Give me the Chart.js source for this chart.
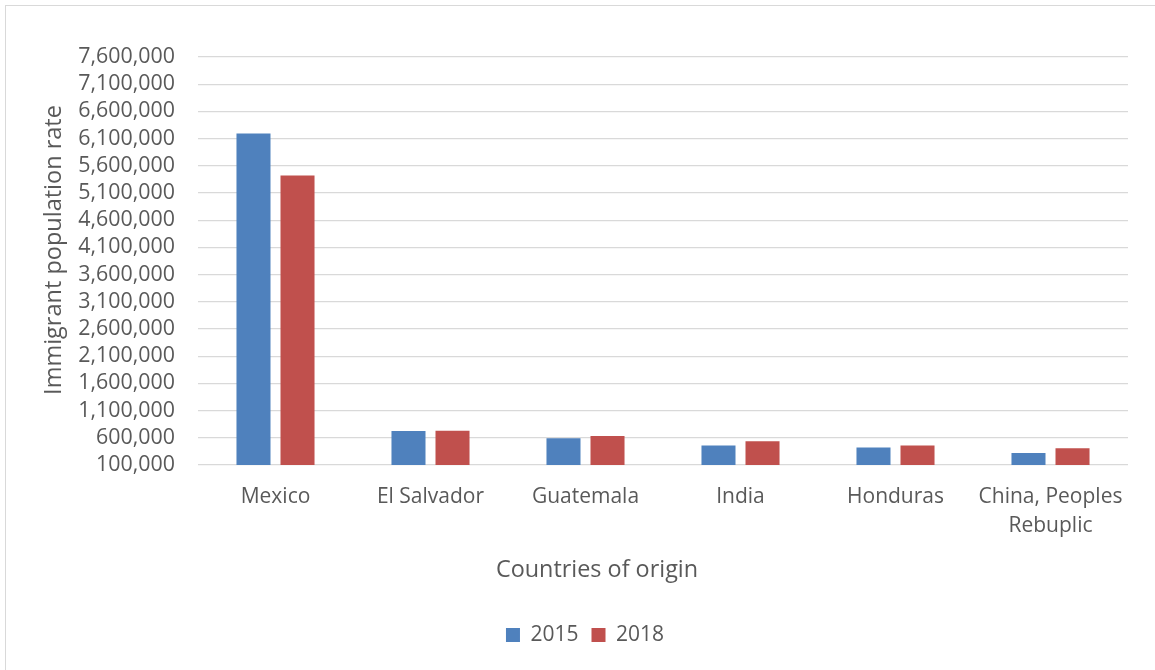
<!DOCTYPE html>
<html>
<head>
<meta charset="utf-8">
<script src="https://cdn.jsdelivr.net/npm/chart.js@4/dist/chart.umd.min.js"></script>
<style>
  html, body { margin: 0; padding: 0; background: #ffffff; }
  #wrap { position: relative; width: 1155px; height: 670px; overflow: hidden; }
  #frame { position: absolute; left: 5px; top: 5px; width: 1160px; height: 680px;
           border: 1px solid #d9d9d9; box-sizing: border-box; pointer-events: none; }
  canvas { position: absolute; left: 0; top: 0; }
</style>
</head>
<body>
<div id="wrap">
  <canvas id="chart" width="1155" height="670"></canvas>
  <div id="frame"></div>
</div>
<script>
// Immigrant population by country of origin
const countries = ['Mexico', 'El Salvador', 'Guatemala', 'India', 'Honduras', ['China, Peoples', 'Rebuplic']];
const values2015 = [6195000, 723000, 594000, 459000, 422000, 322000];
const values2018 = [5420000, 729000, 631000, 538000, 459000, 409000];
const yMin = 100000;
const yMax = 7600000;
const yStep = 500000;
const yTitle = 'Immigrant population rate';
const xTitle = 'Countries of origin';

const FONT = "'Open Sans', 'Liberation Sans', sans-serif";
const TEXT = '#595959';

// Axis captions, placed relative to the plot area
const axisCaptions = {
  id: 'axisCaptions',
  afterDraw(chart) {
    const { ctx, chartArea } = chart;
    ctx.save();
    ctx.fillStyle = TEXT;
    ctx.textAlign = 'center';
    ctx.textBaseline = 'middle';
    ctx.font = '23.4px ' + FONT;
    ctx.fillText(xTitle, chartArea.left + 399, chartArea.bottom + 105);
    ctx.translate(chartArea.left - 144, chartArea.top + 193);
    ctx.rotate(-Math.PI / 2);
    ctx.font = '23.5px ' + FONT;
    ctx.fillText(yTitle, 0, 0);
    ctx.restore();
  }
};

new Chart(document.getElementById('chart'), {
  type: 'bar',
  data: {
    labels: countries,
    datasets: [
      { label: '2015', data: values2015, backgroundColor: '#4f81bd' },
      { label: '2018', data: values2018, backgroundColor: '#c0504d' }
    ]
  },
  plugins: [axisCaptions],
  options: {
    responsive: false,
    animation: false,
    categoryPercentage: 0.568,
    barPercentage: 0.773,
    layout: { padding: { top: 57, right: 27, bottom: 14.5, left: 42 } },
    plugins: {
      tooltip: { enabled: false },
      legend: {
        position: 'bottom',
        labels: {
          color: TEXT,
          font: { family: FONT, size: 21 },
          boxWidth: 14,
          boxHeight: 14,
          padding: 13
        }
      }
    },
    scales: {
      x: {
        grid: { display: false, drawTicks: false },
        border: { display: false },
        ticks: { color: TEXT, font: { family: FONT, size: 21, lineHeight: 1.35 }, padding: 18, maxRotation: 0 },
        afterFit: (s) => { s.height = 146.5; }
      },
      y: {
        min: yMin,
        max: yMax,
        grid: { color: '#d9d9d9', lineWidth: 1.3, drawTicks: false },
        border: { display: false },
        ticks: {
          stepSize: yStep, autoSkip: false, color: TEXT, padding: 23,
          font: { family: FONT, size: 21.4 },
          callback: (v) => v.toLocaleString('en-US')
        },
        afterFit: (s) => { s.width = 156; }
      }
    }
  }
});
</script>
</body>
</html>
